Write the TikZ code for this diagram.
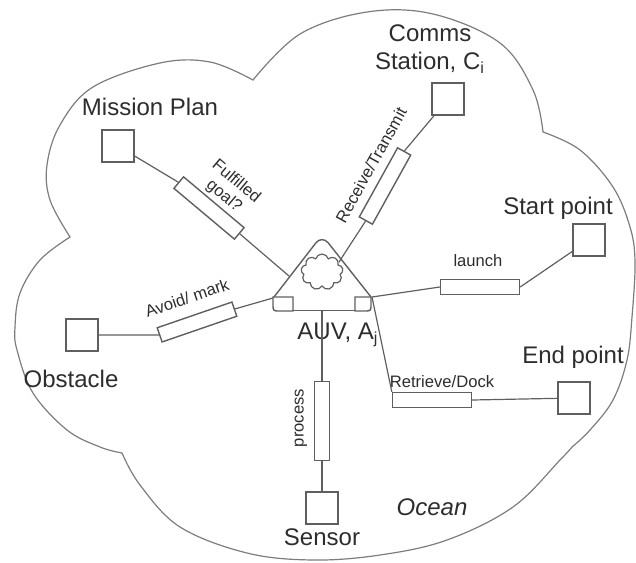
\documentclass[tikz,border=0pt]{standalone}
\usepackage{fontspec}
\setmainfont{Liberation Sans}
\definecolor{linegray}{RGB}{95,95,95}
\definecolor{cloudgray}{RGB}{125,125,125}
\definecolor{textgray}{RGB}{45,45,45}
\usetikzlibrary{shapes.symbols}

\begin{document}
\begin{tikzpicture}[x=0.5pt,y=-0.5pt,
    lbl/.style={text=textgray,font=\fontsize{12}{14}\selectfont,align=center,inner sep=0pt},
    linktext/.style={text=textgray,font=\fontsize{8.3}{9.5}\selectfont,align=center,inner sep=0pt},
    sq/.style={draw=linegray,line width=0.9pt,minimum size=16pt,inner sep=0pt},
    lk/.style={draw=linegray,line width=0.7pt,minimum width=39.5pt,minimum height=7.5pt,inner sep=0pt},
    wire/.style={draw=linegray,line width=0.6pt}]
  \useasboundingbox (0,0) rectangle (636,562);
  % ocean outline
  \draw[cloudgray,line width=0.6pt]
    plot[smooth,tension=0.6] coordinates {(70,237) (50,200) (47,165) (60,125) (93,87) (160,63) (210,62) (253,80)}
    -- plot[smooth,tension=0.6] coordinates {(253,80) (300,34) (367,12) (433,14) (500,43) (533,90) (543,132)}
    -- plot[smooth,tension=0.6] coordinates {(543,132) (580,150) (613,187) (630,227) (635,262) (632,317) (627,360) (613,400) (590,430) (572,447)}
    -- plot[smooth,tension=0.6] coordinates {(572,447) (560,460) (513,507) (447,540) (380,555) (313,560) (247,553) (180,527) (140,485) (122,453)}
    -- plot[smooth,tension=0.6] coordinates {(122,453) (100,447) (67,430) (33,393) (17,350) (15,327) (20,293) (40,260) (70,237)}
    -- cycle;
  % AUV
  \draw[linegray,line width=0.7pt,rounded corners=5pt] (274,297) -- (322,235) -- (371,297);
  \draw[linegray,line width=0.7pt] (273,297) -- (293,297) -- (293,311) -- (280,311) .. controls (273,311) .. (273,304) -- cycle;
  \draw[linegray,line width=0.7pt] (371,297) -- (355,297) -- (355,311) -- (364,311) .. controls (371,311) .. (371,304) -- cycle;
  \draw[linegray,line width=0.7pt] (293,310.5) -- (355,310.5);
  \node[cloud,draw=linegray,line width=0.6pt,cloud puffs=9,aspect=1.2,minimum width=21pt,minimum height=18pt,inner sep=0pt] (puff) at (322,272) {};
  \coordinate (auvL) at (273,298);
  \coordinate (auvR) at (372,297);
  \coordinate (auvB) at (322,311);
  \coordinate (auvS) at (289,276);
  \node[lbl] (auvlbl) at (338,335) {AUV, A\textsubscript{j}};

  \node[sq] (mission) at (118,146) {};
  \node[lbl] (missionlbl) at (150,107) {Mission Plan};
  \node[sq] (comms) at (448,99) {};
  \node[lbl] (commslbl) at (430,49) {Comms\\Station, C\textsubscript{i}};
  \node[sq] (start) at (589,240) {};
  \node[lbl] (startlbl) at (558,208) {Start point};
  \node[sq] (finish) at (574,398) {};
  \node[lbl] (finishlbl) at (573,357) {End point};
  \node[sq] (obstacle) at (82,335) {};
  \node[lbl] (obstaclelbl) at (71,379) {Obstacle};
  \node[sq] (sensor) at (322,508) {};
  \node[lbl] (sensorlbl) at (322,537) {Sensor};
  \node[lbl,font=\fontsize{12}{14}\selectfont\itshape] (oceanlbl) at (432,507) {Ocean};

  \node[lk,rotate=-40] (goal) at (209,208) {};
  \node[lk,rotate=61] (radio) at (385,186) {};
  \node[lk] (launch) at (480,287) {};
  \node[lk] (dock) at (432,400) {};
  \node[lk,rotate=19] (avoid) at (197,322) {};
  \node[lk,rotate=-90] (process) at (322,421) {};

  \node[linktext,rotate=-40] (goaltext) at (230,189) {Fulfilled\\goal?};
  \node[linktext,rotate=61] (radiotext) at (371,165) {Receive/Transmit};
  \node[linktext] (launchtext) at (478,261) {launch};
  \node[linktext] (docktext) at (442,382) {Retrieve/Dock};
  \node[linktext,rotate=19] (avoidtext) at (187,298) {Avoid/ mark};
  \node[linktext,rotate=90] (processtext) at (301,418) {process};

  \draw[wire] (mission) -- (goal.west);
  \draw[wire] (goal.east) -- (auvS);
  \draw[wire] (comms) -- (radio.east);
  \draw[wire] (radio.west) -- (puff.30);
  \draw[wire] (obstacle) -- (avoid.west);
  \draw[wire] (avoid.east) -- (auvL);
  \draw[wire] (auvR) -- (launch.west);
  \draw[wire] (launch.east) -- (start);
  \draw[wire] (auvR) -- (dock.north west);
  \draw[wire] (dock.east) -- (finish);
  \draw[wire] (auvB) -- (process.west);
  \draw[wire] (process.east) -- (sensor);
\end{tikzpicture}
\end{document}
